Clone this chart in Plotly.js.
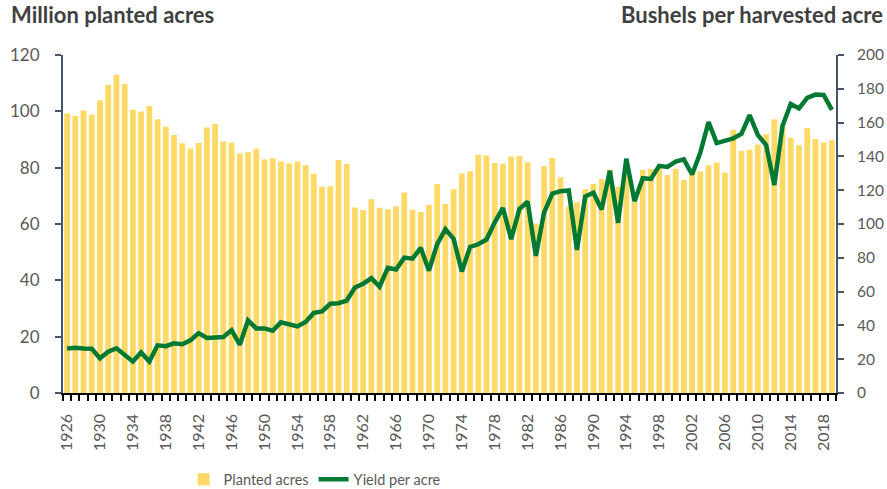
<!DOCTYPE html>
<html>
<head>
<meta charset="utf-8">
<script src="https://cdn.plot.ly/plotly-3.0.1.min.js"></script>
<style>html,body{margin:0;padding:0;background:#fff;}#chart{width:887px;height:489px;}</style>
</head>
<body>
<div id="chart"></div>
<script>
const years = [];
for (let y = 1926; y <= 2019; y++) years.push(y);

const plantedAcres = [
  99.2, 98.4, 100.3, 98.9, 103.9, 109.4, 113.0, 109.8, 100.6, 99.9,
  101.9, 97.2, 94.5, 91.6, 88.7, 86.8, 88.8, 94.3, 95.5, 89.3,
  88.9, 85.0, 85.5, 86.7, 82.9, 83.3, 82.2, 81.6, 82.2, 80.9,
  77.8, 73.2, 73.4, 82.7, 81.4, 65.9, 65.0, 68.8, 65.8, 65.2,
  66.3, 71.2, 65.1, 64.3, 66.8, 74.2, 67.1, 72.3, 77.9, 78.7,
  84.6, 84.3, 81.7, 81.4, 84.0, 84.1, 81.9, 60.2, 80.5, 83.4,
  76.6, 66.2, 67.7, 72.3, 74.2, 76.0, 79.3, 73.2, 79.2, 71.5,
  79.2, 79.5, 80.2, 77.4, 79.6, 75.7, 78.9, 78.6, 80.9, 81.8,
  78.3, 93.5, 86.0, 86.4, 88.2, 91.9, 97.2, 95.4, 90.6, 88.0,
  94.0, 90.2, 88.9, 89.7
];

const yieldPerAcre = [
  26.3, 26.8, 26.3, 26.2, 20.5, 24.5, 26.5, 22.6, 18.7, 24.0,
  18.6, 28.2, 27.7, 29.4, 28.9, 31.2, 35.4, 32.6, 33.0, 33.1,
  37.2, 28.6, 43.0, 38.2, 38.2, 36.9, 41.8, 40.7, 39.4, 42.0,
  47.4, 48.3, 52.8, 53.1, 54.7, 62.4, 64.7, 67.9, 62.9, 74.1,
  73.1, 80.1, 79.5, 85.9, 72.4, 88.1, 97.0, 91.3, 71.9, 86.4,
  88.0, 90.8, 101.0, 109.5, 91.0, 108.9, 113.2, 81.1, 106.7, 118.0,
  119.4, 119.8, 84.6, 116.3, 118.5, 108.6, 131.5, 100.7, 138.6, 113.5,
  127.1, 126.7, 134.4, 133.8, 136.9, 138.2, 129.3, 142.2, 160.3, 147.9,
  149.1, 150.7, 153.3, 164.4, 152.6, 146.8, 123.1, 158.1, 171.0, 168.4,
  174.6, 176.6, 176.4, 167.5
];

const leftTitle = "Million planted acres";
const rightTitle = "Bushels per harvested acre";

const FONT = "Lato, 'Open Sans', sans-serif";
const AXC = "#44546A";
const TXT = "#595959";

const traces = [
  {
    type: "bar", name: "Planted acres", x: years, y: plantedAcres,
    marker: {color: "#FFD966"}, yaxis: "y"
  },
  {
    type: "scatter", mode: "lines", name: "Yield per acre", x: years, y: yieldPerAcre,
    line: {color: "#007A33", width: 4.5}, yaxis: "y2"
  }
];

const layout = {
  width: 887, height: 489,
  margin: {l: 63, r: 51, t: 55, b: 96, autoexpand: false},
  paper_bgcolor: "#fff", plot_bgcolor: "#fff",
  font: {family: FONT, color: TXT, size: 15},
  bargap: 0.3,
  showlegend: true,
  legend: {
    orientation: "h", xref: "container", yref: "container",
    x: 0.207, xanchor: "left", y: 0.02, yanchor: "middle",
    font: {size: 14.5, color: TXT}, traceorder: "normal", itemwidth: 30
  },
  xaxis: {
    type: "linear", range: [1925.5, 2019.5],
    tickmode: "linear", tick0: 1926, dtick: 4, ticks: "",
    tickangle: -90, tickfont: {size: 16, color: TXT},
    showline: true, linecolor: "#000", linewidth: 1.5,
    showgrid: false, zeroline: false, ticklabelstandoff: 13,
    minor: {ticks: "outside", tick0: 1925.5, dtick: 1, ticklen: 6, tickcolor: "#000", tickwidth: 2, showgrid: false}
  },
  yaxis: {
    range: [0, 120], tickmode: "linear", tick0: 0, dtick: 20,
    ticks: "outside", ticklen: 6, tickwidth: 2, tickcolor: AXC,
    showline: true, linecolor: AXC, linewidth: 2,
    showgrid: false, zeroline: false, tickfont: {size: 17, color: TXT},
    ticklabelstandoff: 12
  },
  yaxis2: {
    range: [0, 200], tickmode: "linear", tick0: 0, dtick: 20,
    overlaying: "y", side: "right",
    ticks: "outside", ticklen: 6, tickwidth: 2, tickcolor: AXC,
    showline: true, linecolor: AXC, linewidth: 2,
    showgrid: false, zeroline: false, tickfont: {size: 15.5, color: TXT},
    ticklabelstandoff: 10
  },
  annotations: [
    {text: "<b>" + leftTitle + "</b>", xref: "paper", yref: "paper", x: -0.07, y: 1.12,
     xanchor: "left", yanchor: "middle", showarrow: false, font: {size: 22, color: "#404040"}},
    {text: "<b>" + rightTitle + "</b>", xref: "paper", yref: "paper", x: 1.063, y: 1.12,
     xanchor: "right", yanchor: "middle", showarrow: false, font: {size: 22, color: "#404040"}}
  ]
};

Plotly.newPlot("chart", traces, layout, {displayModeBar: false, staticPlot: true});
</script>
</body>
</html>
